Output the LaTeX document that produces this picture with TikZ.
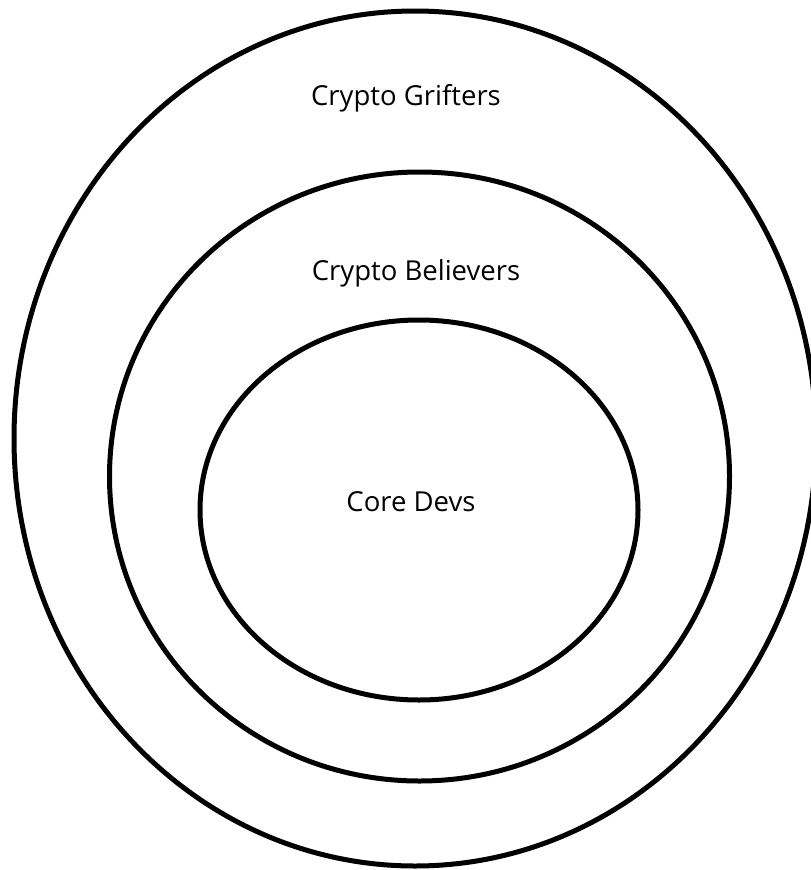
\documentclass[tikz,border=0pt]{standalone}
\usepackage{fontspec}
\setmainfont{Open Sans}
\begin{document}
\begin{tikzpicture}[x=1pt,y=-1pt,
  ring/.style={draw=black,line width=5pt},
  lbl/.style={font=\fontsize{27.5}{32}\selectfont,text=black,inner sep=0pt}]
\useasboundingbox (0,0) rectangle (811,870);
\draw[ring] (415,438.5) ellipse [x radius=401,y radius=427.5];
\draw[ring] (419.5,476.5) ellipse [x radius=310,y radius=304.5];
\draw[ring] (419,510) ellipse [x radius=219,y radius=190];
\node[lbl] (grifters) at (406,98) {Crypto Grifters};
\node[lbl] (believers) at (416,273) {Crypto Believers};
\node[lbl] (devs) at (411,502) {Core Devs};
\end{tikzpicture}
\end{document}
